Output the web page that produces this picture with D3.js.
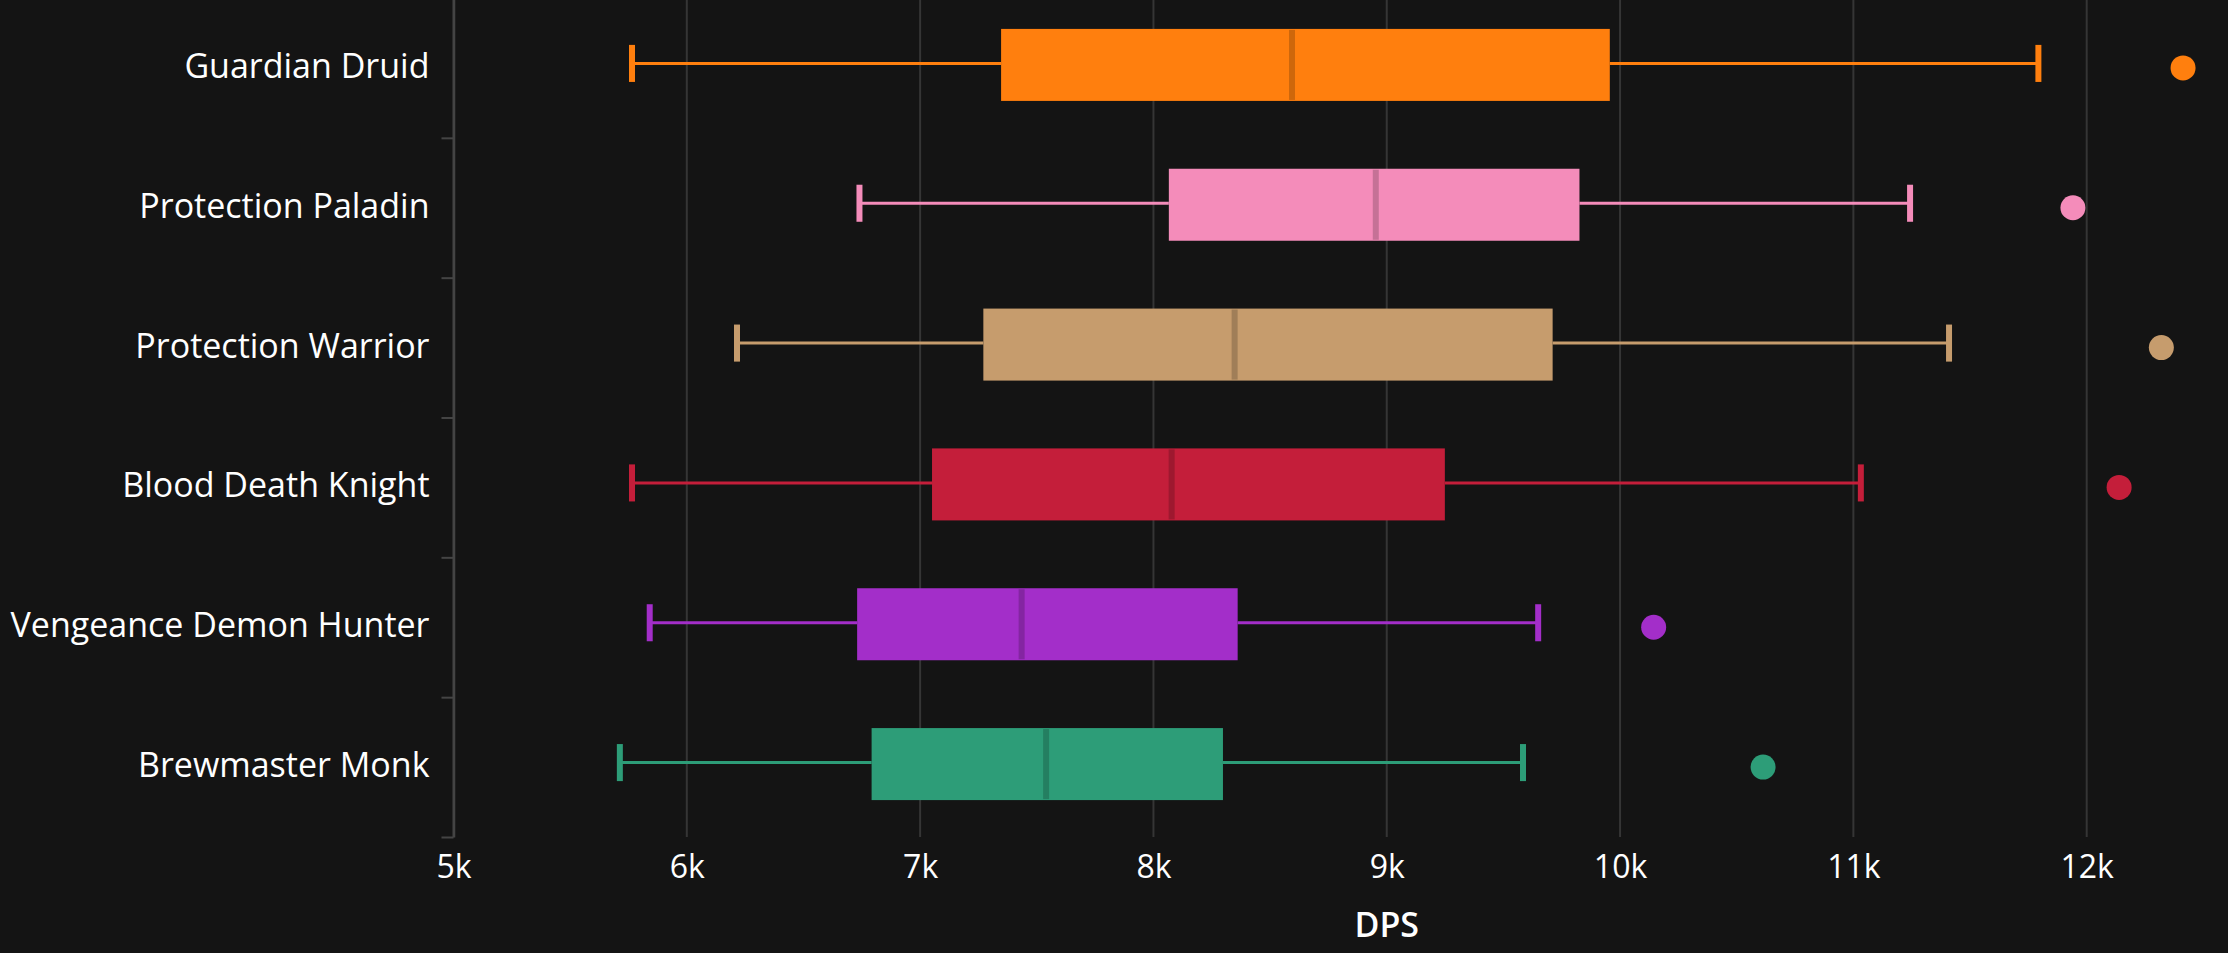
<!DOCTYPE html>
<html>
<head>
<meta charset="utf-8">
<script src="https://cdn.jsdelivr.net/npm/d3@7"></script>
<style>
  html, body { margin: 0; padding: 0; background: #141414; }
  svg { display: block; }
  text { font-family: "Open Sans", "Noto Sans", sans-serif; fill: #ffffff; }
</style>
</head>
<body>
<div id="chart"></div>
<script>

// DATA

var specs       = [ 'Guardian Druid', 'Protection Paladin', 'Protection Warrior',
                    'Blood Death Knight', 'Vengeance Demon Hunter', 'Brewmaster Monk' ];
var lowWhisker  = [ 5765, 6740, 6215, 5765, 5841, 5713 ];
var quartile1   = [ 7347, 8066, 7271, 7051, 6730, 6792 ];
var medians     = [ 8594, 8953, 8348, 8078, 7435, 7540 ];
var quartile3   = [ 9956, 9826, 9711, 9249, 8361, 8298 ];
var highWhisker = [ 11793, 11243, 11410, 11032, 9649, 9584 ];
var outliers    = [ 12413, 11941, 12320, 12139, 10144, 10613 ];
var specColors  = [ '#ff7f0e', '#f48cba', '#c69c6d', '#c41e3a', '#a32ec9', '#2d9d78' ];
var xTicks      = [ 5000, 6000, 7000, 8000, 9000, 10000, 11000, 12000 ];


// LAYOUT

var width  = 2228;
var height = 953;

var plot = {
    left: 453.5,
    right: 2320,    // plot runs past the window edge; 13k is never shown
    top: -2,
    bottom: 837
};

var boxShare   = 0.515;     // box height as share of a band
var capShare   = 0.265;     // whisker cap height as share of a band
var boxShift   = -3;        // boxes sit a little above the band centre
var dotRadius  = 12.5;


// SCALES

var x = d3.scaleLinear()
            .domain( [5000, 13000] )
            .range( [plot.left, plot.right] );

var y = d3.scaleBand()
            .domain( specs )
            .range( [plot.top, plot.bottom] );

var yEdges = d3.scaleLinear()
            .domain( [0, specs.length] )
            .range( [plot.top, plot.bottom] );

var rows = specs.map( function( s, i ) {
    return {
        name: s,
        lo: lowWhisker[i],
        q1: quartile1[i],
        med: medians[i],
        q3: quartile3[i],
        hi: highWhisker[i],
        out: outliers[i],
        color: specColors[i]
    };
} );

function rowCenter( d ) {
    return y( d.name ) + y.bandwidth() / 2;
}


// SVG

var svg = d3.select( '#chart' ).append( 'svg' )
            .attr( 'width', width )
            .attr( 'height', height );

svg.append( 'rect' )
    .attr( 'width', width )
    .attr( 'height', height )
    .attr( 'fill', '#141414' );

// Grid lines
svg.append( 'g' )
    .selectAll( 'line' )
    .data( xTicks )
    .enter().append( 'line' )
        .attr( 'x1', function( d ) { return x( d ); } )
        .attr( 'x2', function( d ) { return x( d ); } )
        .attr( 'y1', 0 )
        .attr( 'y2', plot.bottom )
        .attr( 'stroke', '#353535' )
        .attr( 'stroke-width', 2 );

// X axis labels (no domain line, no ticks)
var xAxis = d3.axisBottom( x )
                .tickValues( xTicks )
                .tickFormat( function( d ) { return ( d / 1000 ) + 'k'; } )
                .tickSize( 0 )
                .tickPadding( 0 );

var gx = svg.append( 'g' )
            .attr( 'transform', 'translate(0,' + plot.bottom + ')' )
            .call( xAxis );
gx.select( '.domain' ).remove();
gx.selectAll( 'text' )
    .attr( 'dy', null )
    .attr( 'y', 41 )
    .style( 'font-size', '32px' )
    .style( 'font-family', '"Open Sans", sans-serif' )
    .attr( 'fill', '#ffffff' );

svg.append( 'text' )
    .attr( 'x', ( plot.left + plot.right ) / 2 )
    .attr( 'y', 937 )
    .attr( 'text-anchor', 'middle' )
    .style( 'font-size', '34px' )
    .style( 'font-weight', 600 )
    .text( 'DPS' );

// Y axis: line with ticks between categories
var yAxis = d3.axisLeft( yEdges )
                .tickValues( d3.range( 1, specs.length + 1 ) )
                .tickFormat( '' )
                .tickSize( 12 )
                .tickSizeOuter( 0 );

var gy = svg.append( 'g' )
            .attr( 'transform', 'translate(' + plot.left + ',0)' )
            .call( yAxis );
gy.select( '.domain' ).attr( 'stroke', '#444444' ).attr( 'stroke-width', 2.5 );
gy.selectAll( '.tick line' ).attr( 'stroke', '#444444' ).attr( 'stroke-width', 2 );

// Category labels
svg.append( 'g' )
    .selectAll( 'text' )
    .data( rows )
    .enter().append( 'text' )
        .attr( 'x', plot.left - 24 )
        .attr( 'y', function( d ) { return rowCenter( d ) + boxShift; } )
        .attr( 'text-anchor', 'end' )
        .attr( 'dominant-baseline', 'central' )
        .style( 'font-size', '34px' )
        .text( function( d ) { return d.name; } );

// Boxes
var g = svg.append( 'g' )
            .selectAll( 'g' )
            .data( rows )
            .enter().append( 'g' )
                .attr( 'transform', function( d ) {
                    return 'translate(0,' + ( rowCenter( d ) + boxShift ) + ')';
                } );

var boxH = y.bandwidth() * boxShare;
var capH = y.bandwidth() * capShare;

// Whisker lines
g.append( 'line' )
    .attr( 'x1', function( d ) { return x( d.lo ); } )
    .attr( 'x2', function( d ) { return x( d.q1 ); } )
    .attr( 'y1', -1.5 ).attr( 'y2', -1.5 )
    .attr( 'stroke', function( d ) { return d.color; } )
    .attr( 'stroke-width', 3 );

g.append( 'line' )
    .attr( 'x1', function( d ) { return x( d.q3 ); } )
    .attr( 'x2', function( d ) { return x( d.hi ); } )
    .attr( 'y1', -1.5 ).attr( 'y2', -1.5 )
    .attr( 'stroke', function( d ) { return d.color; } )
    .attr( 'stroke-width', 3 );

// Whisker caps
[ 'lo', 'hi' ].forEach( function( k ) {
    g.append( 'line' )
        .attr( 'x1', function( d ) { return x( d[k] ); } )
        .attr( 'x2', function( d ) { return x( d[k] ); } )
        .attr( 'y1', -capH / 2 - 1.5 )
        .attr( 'y2', capH / 2 - 1.5 )
        .attr( 'stroke', function( d ) { return d.color; } )
        .attr( 'stroke-width', 6 );
} );

// Interquartile box
g.append( 'rect' )
    .attr( 'x', function( d ) { return x( d.q1 ); } )
    .attr( 'width', function( d ) { return x( d.q3 ) - x( d.q1 ); } )
    .attr( 'y', -boxH / 2 )
    .attr( 'height', boxH )
    .attr( 'fill', function( d ) { return d.color; } );

// Median
g.append( 'line' )
    .attr( 'x1', function( d ) { return x( d.med ); } )
    .attr( 'x2', function( d ) { return x( d.med ); } )
    .attr( 'y1', -boxH / 2 + 1 )
    .attr( 'y2', boxH / 2 - 1 )
    .attr( 'stroke', function( d ) { return d3.color( d.color ).darker( 0.6 ); } )
    .attr( 'stroke-width', 6 );

// Outliers
svg.append( 'g' )
    .selectAll( 'circle' )
    .data( rows )
    .enter().append( 'circle' )
        .attr( 'cx', function( d ) { return x( d.out ); } )
        .attr( 'cy', function( d ) { return rowCenter( d ); } )
        .attr( 'r', dotRadius )
        .attr( 'fill', function( d ) { return d.color; } );

</script>
</body>
</html>
